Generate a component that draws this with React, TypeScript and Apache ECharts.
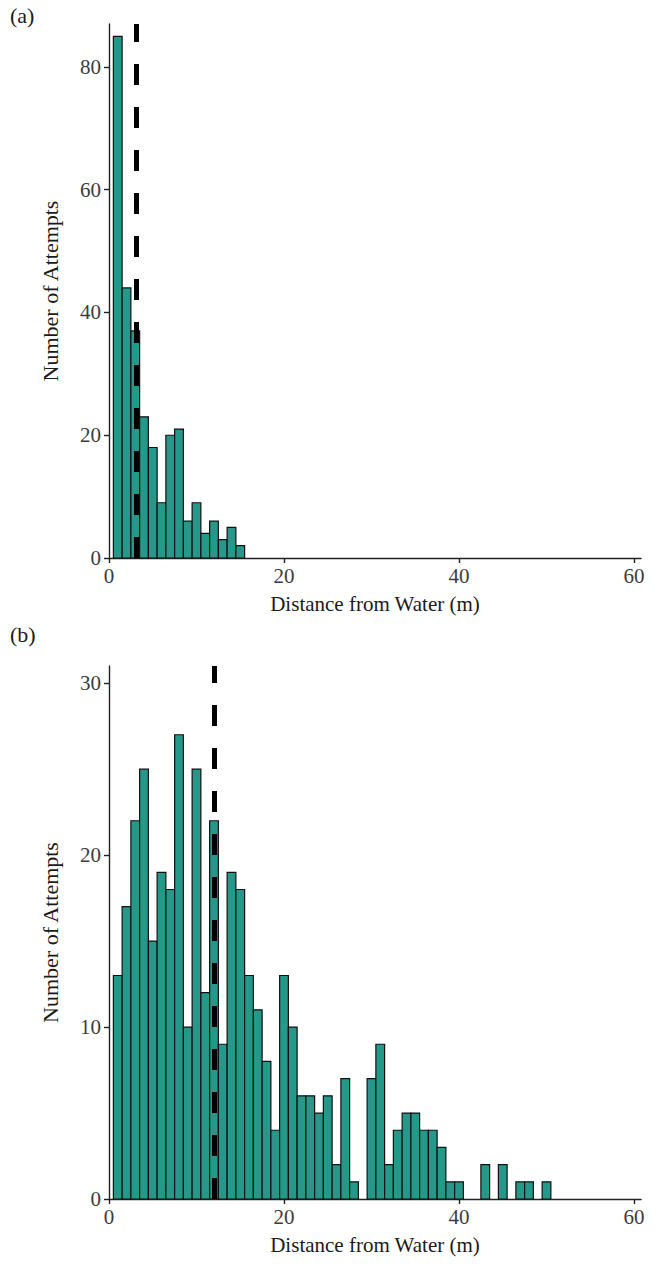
import React, { useEffect, useRef } from "react";
import * as echarts from "echarts";

const binCentersA = [1, 2, 3, 4, 5, 6, 7, 8, 9, 10, 11, 12, 13, 14, 15];
const countsA = [85, 44, 37, 23, 18, 9, 20, 21, 6, 9, 4, 6, 3, 5, 2];
const refLineA = 3.1;

const binCentersB = [
  1, 2, 3, 4, 5, 6, 7, 8, 9, 10, 11, 12, 13, 14, 15, 16, 17, 18, 19, 20, 21, 22, 23, 24, 25,
  26, 27, 28, 29, 30, 31, 32, 33, 34, 35, 36, 37, 38, 39, 40, 41, 42, 43, 44, 45, 46, 47, 48, 49, 50,
];
const countsB = [
  13, 17, 22, 25, 15, 19, 18, 27, 10, 25, 12, 22, 9, 19, 18, 13, 11, 8, 4, 13, 10, 6, 6, 5, 6,
  2, 7, 1, 0, 7, 9, 2, 4, 5, 5, 4, 4, 3, 1, 1, 0, 0, 2, 0, 2, 0, 1, 1, 0, 1,
];
const refLineB = 12;

const xTicks = [0, 20, 40, 60];
const yTicksA = [0, 20, 40, 60, 80];
const yTicksB = [0, 10, 20, 30];

const FONT = "Liberation Serif";
const BAR_COLOR = "#26988A";

function App() {
  const ref = useRef<HTMLDivElement>(null);
  useEffect(() => {
    if (!ref.current) return;
    const chart = echarts.init(ref.current, null, { renderer: "svg" });

    const axisLineStyle = { color: "#222", width: 1.4 };
    const mkX = (gridIndex: number) => ({
      type: "value",
      gridIndex,
      min: 0,
      max: 60.8,
      name: "Distance from Water (m)",
      nameLocation: "middle",
      nameGap: 35,
      nameTextStyle: { fontFamily: FONT, fontSize: 21, color: "#1a1a1a" },
      axisLine: { show: true, lineStyle: axisLineStyle },
      axisTick: { show: true, length: 5, lineStyle: axisLineStyle, customValues: xTicks },
      axisLabel: { fontFamily: FONT, fontSize: 21, color: "#3c3c3c", margin: 7, customValues: xTicks },
      splitLine: { show: false },
    });
    const mkY = (gridIndex: number, max: number, ticks: number[]) => ({
      type: "value",
      gridIndex,
      min: 0,
      max,
      name: "Number of Attempts",
      nameLocation: "middle",
      nameGap: 48,
      nameRotate: 90,
      nameTextStyle: { fontFamily: FONT, fontSize: 22, color: "#1a1a1a" },
      axisLine: { show: true, lineStyle: axisLineStyle },
      axisTick: { show: true, length: 5, lineStyle: axisLineStyle, customValues: ticks },
      axisLabel: { fontFamily: FONT, fontSize: 21, color: "#3c3c3c", margin: 8, customValues: ticks },
      splitLine: { show: false },
    });

    const renderBar = (params: any, api: any) => {
      const x = api.value(0);
      const y = api.value(1);
      if (!y) return null;
      const p0 = api.coord([x - 0.5, y]);
      const p1 = api.coord([x + 0.5, 0]);
      return {
        type: "rect",
        shape: { x: p0[0], y: p0[1], width: p1[0] - p0[0], height: p1[1] - p0[1] },
        style: { fill: BAR_COLOR, stroke: "#111", lineWidth: 1.2 },
      };
    };

    const mkSeries = (idx: number, centers: number[], counts: number[], refX: number) => ({
      type: "custom",
      xAxisIndex: idx,
      yAxisIndex: idx,
      renderItem: renderBar,
      data: centers.map((c, i) => [c, counts[i]]),
      markLine: {
        silent: true,
        symbol: ["none", "none"],
        label: { show: false },
        lineStyle: { color: "#000", width: 5, type: [21, 22], dashOffset: 0 },
        data: [{ xAxis: refX }],
        z: 10,
      },
    });

    chart.setOption({
      animation: false,
      grid: [
        { left: 109, right: 14, top: 24, height: 534 },
        { left: 109, right: 14, top: 666, height: 533 },
      ],
      xAxis: [mkX(0), mkX(1)],
      yAxis: [mkY(0, 87, yTicksA), mkY(1, 31, yTicksB)],
      series: [mkSeries(0, binCentersA, countsA, refLineA), mkSeries(1, binCentersB, countsB, refLineB)],
      graphic: [
        { type: "text", left: 10, top: 4, style: { text: "(a)", fontFamily: FONT, fontSize: 22, fill: "#1a1a1a" } },
        { type: "text", left: 10, top: 623, style: { text: "(b)", fontFamily: FONT, fontSize: 22, fill: "#1a1a1a" } },
      ],
    });
    return () => chart.dispose();
  }, []);
  return (
    <div
      ref={ref}
      style={{ position: "fixed", left: 0, top: 0, width: 655, height: 1264, background: "#fff" }}
    />
  );
}

export default App;
